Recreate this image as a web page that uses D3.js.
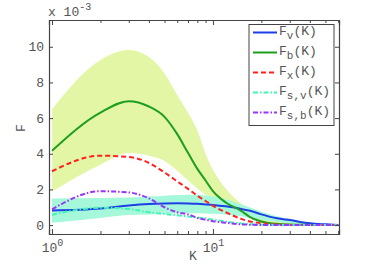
<!DOCTYPE html>
<html>
<head>
<meta charset="utf-8">
<script src="https://cdn.jsdelivr.net/npm/d3@7"></script>
<style>
  body { margin: 0; background: #fff; }
  text { font-family: "Liberation Mono", "DejaVu Sans Mono", monospace; fill: #555; }
</style>
</head>
<body>
<div id="chart"></div>
<script>
// sampled K values
var K = [1, 2, 3, 4, 5, 6, 7, 8, 9, 10, 12, 15, 17, 20, 25, 30, 40, 50, 60];

// series values (x 10^-3)
var Fv    = [0.82, 0.93, 1.10, 1.18, 1.21, 1.22, 1.21, 1.19, 1.16, 1.13, 1.05, 0.90, 0.80, 0.60, 0.38, 0.28, 0.10, 0.04, 0];
var FvLo  = [0.13, 0.40, 0.56, 0.60, 0.63, 0.65, 0.66, 0.66, 0.65, 0.63, 0.60, 0.50, 0.42, 0.32, 0.18, 0.10, 0.03, 0, 0];
var FvHi  = [1.49, 1.52, 1.55, 1.60, 1.65, 1.68, 1.70, 1.70, 1.66, 1.60, 1.45, 1.15, 0.98, 0.75, 0.50, 0.35, 0.15, 0.07, 0.03];
var Fb    = [4.17, 6.31, 6.95, 6.65, 6.07, 5.10, 4.05, 3.15, 2.50, 1.90, 1.27, 0.80, 0.45, 0.20, 0.07, 0.03, 0.01, 0, 0];
var FbLo  = [1.88, 3.39, 4.04, 3.89, 3.60, 3.05, 2.50, 2.05, 1.70, 1.45, 1.05, 0.65, 0.38, 0.15, 0.05, 0.02, 0, 0, 0];
var FbHi  = [6.50, 9.26, 9.82, 9.42, 8.50, 7.30, 6.30, 5.30, 4.00, 3.10, 2.05, 1.20, 0.90, 0.62, 0.30, 0.15, 0.04, 0.01, 0];
var Fx    = [3.02, 3.89, 3.82, 3.49, 2.95, 2.45, 2.03, 1.65, 1.35, 1.08, 0.72, 0.35, 0.20, 0.10, 0.03, 0.01, 0, 0, 0];
var Fsv   = [0.58, 0.97, 0.90, 0.72, 0.62, 0.55, 0.48, 0.43, 0.38, 0.30, 0.20, 0.09, 0.05, 0.03, 0.01, 0, 0, 0, 0];
var Fsb   = [0.88, 1.90, 1.83, 1.50, 1.00, 0.72, 0.60, 0.40, 0.30, 0.22, 0.13, 0.04, 0.02, 0, 0, 0, 0, 0, 0];

var yTicks = [0, 2, 4, 6, 8, 10];
var xMajor = [1, 10];
var xMinor = [2, 3, 4, 5, 6, 7, 8, 9, 20, 30, 40, 50, 60];

var series = [
    { sub: "v",   values: Fv,  color: "#1f3fe6", dash: null },
    { sub: "b",   values: Fb,  color: "#1e9e1e", dash: null },
    { sub: "x",   values: Fx,  color: "#ff2020", dash: "5,3" },
    { sub: "s,v", values: Fsv, color: "#40f5b5", dash: "5,2,1.5,2" },
    { sub: "s,b", values: Fsb, color: "#9933ff", dash: "5,2,1.5,2" }
];

var bands = [
    { lo: FbLo, hi: FbHi, color: "#e3f6a6" },
    { lo: FvLo, hi: FvHi, color: "#a6f8da" }
];

(function () {
    var w = 374, h = 266;
    var mLeft = 49, mRight = 339, mTop = 20, mBottom = 234;

    var svg = d3.select("#chart").append("svg")
        .attr("width", w)
        .attr("height", h);

    var x = d3.scaleLog().domain([0.958, 60.7]).range([mLeft, mRight]);
    var y = d3.scaleLinear().domain([-0.5, 11.5]).range([mBottom, mTop]);

    svg.append("clipPath").attr("id", "plotclip")
        .append("rect").attr("x", mLeft).attr("y", mTop)
        .attr("width", mRight - mLeft).attr("height", mBottom - mTop);

    var plot = svg.append("g").attr("clip-path", "url(#plotclip)");

    // bands
    var area = d3.area()
        .x(function (d, i) { return x(K[i]); })
        .y0(function (d) { return y(d[0]); })
        .y1(function (d) { return y(d[1]); })
        .curve(d3.curveMonotoneX);

    bands.forEach(function (b) {
        plot.append("path")
            .datum(b.lo.map(function (v, i) { return [v, b.hi[i]]; }))
            .attr("fill", b.color)
            .attr("d", area);
    });

    // lines
    var line = d3.line()
        .x(function (d, i) { return x(K[i]); })
        .y(function (d) { return y(d); })
        .curve(d3.curveMonotoneX);

    series.forEach(function (s) {
        plot.append("path")
            .datum(s.values)
            .attr("fill", "none")
            .attr("stroke", s.color)
            .attr("stroke-width", 2)
            .attr("stroke-dasharray", s.dash)
            .attr("d", line);
    });

    // axes (ticks pointing inward)
    var axisColor = "#444";

    var gx = svg.append("g")
        .attr("transform", "translate(0," + mBottom + ")")
        .call(d3.axisBottom(x).tickValues(xMajor).tickSize(-5).tickFormat(""));
    gx.selectAll(".tick text").remove();
    gx.selectAll(".tick").append("text")
        .attr("y", 18)
        .attr("text-anchor", "middle")
        .style("font-size", "13px")
        .each(function (d) {
            var t = d3.select(this);
            t.append("tspan").text("10");
            t.append("tspan").attr("dy", -6).style("font-size", "10px").text(Math.round(Math.log10(d)));
        });

    svg.append("g")
        .attr("transform", "translate(0," + mBottom + ")")
        .call(d3.axisBottom(x).tickValues(xMinor).tickSize(-3).tickFormat(""))
        .call(function (g) { g.select(".domain").remove(); g.selectAll(".tick text").remove(); });

    svg.append("g")
        .attr("transform", "translate(0," + mTop + ")")
        .call(d3.axisTop(x).tickValues(xMajor).tickSize(-5).tickFormat(""))
        .selectAll(".tick text").remove();
    svg.append("g")
        .attr("transform", "translate(0," + mTop + ")")
        .call(d3.axisTop(x).tickValues(xMinor).tickSize(-3).tickFormat(""))
        .call(function (g) { g.select(".domain").remove(); g.selectAll(".tick text").remove(); });

    svg.append("g")
        .attr("transform", "translate(" + mLeft + ",0)")
        .call(d3.axisLeft(y).tickValues(yTicks).tickSize(-4).tickPadding(5))
        .selectAll("text").style("font-size", "13px");

    svg.append("g")
        .attr("transform", "translate(" + mRight + ",0)")
        .call(d3.axisRight(y).tickValues(yTicks).tickSize(-4).tickFormat(""))
        .selectAll(".tick text").remove();

    svg.selectAll(".domain").attr("stroke", axisColor).attr("stroke-width", 1.2);
    svg.selectAll(".tick line").attr("stroke", axisColor);
    svg.selectAll("g[font-family]").attr("font-family", null);
    svg.selectAll(".tick text").attr("fill", "#555");

    // exponent note
    var note = svg.append("text").attr("x", 48).attr("y", 16).style("font-size", "13px");
    note.append("tspan").text("x 10");
    note.append("tspan").attr("dy", -6).style("font-size", "10px").text("-3");

    // axis labels
    svg.append("text")
        .attr("x", 193).attr("y", 260)
        .attr("text-anchor", "middle")
        .style("font-size", "13px")
        .text("K");

    svg.append("text")
        .attr("transform", "translate(25,128) rotate(-90)")
        .attr("text-anchor", "middle")
        .style("font-size", "13px")
        .text("F");

    // legend
    var lg = svg.append("g");
    lg.append("rect")
        .attr("x", 249).attr("y", 24.5)
        .attr("width", 85).attr("height", 101)
        .attr("fill", "#fff")
        .attr("stroke", "#444")
        .attr("stroke-width", 1);

    series.forEach(function (s, i) {
        var ly = 32.5 + i * 20;
        lg.append("line")
            .attr("x1", 253).attr("x2", 277)
            .attr("y1", ly).attr("y2", ly)
            .attr("stroke", s.color)
            .attr("stroke-width", 2)
            .attr("stroke-dasharray", s.dash);
        var t = lg.append("text").attr("x", 279).attr("y", ly + 2.5).style("font-size", "13px");
        t.append("tspan").text("F");
        t.append("tspan").attr("dy", 4).style("font-size", "11px").text(s.sub);
        t.append("tspan").attr("dy", -4).text("(K)");
    });
})();
</script>
</body>
</html>
